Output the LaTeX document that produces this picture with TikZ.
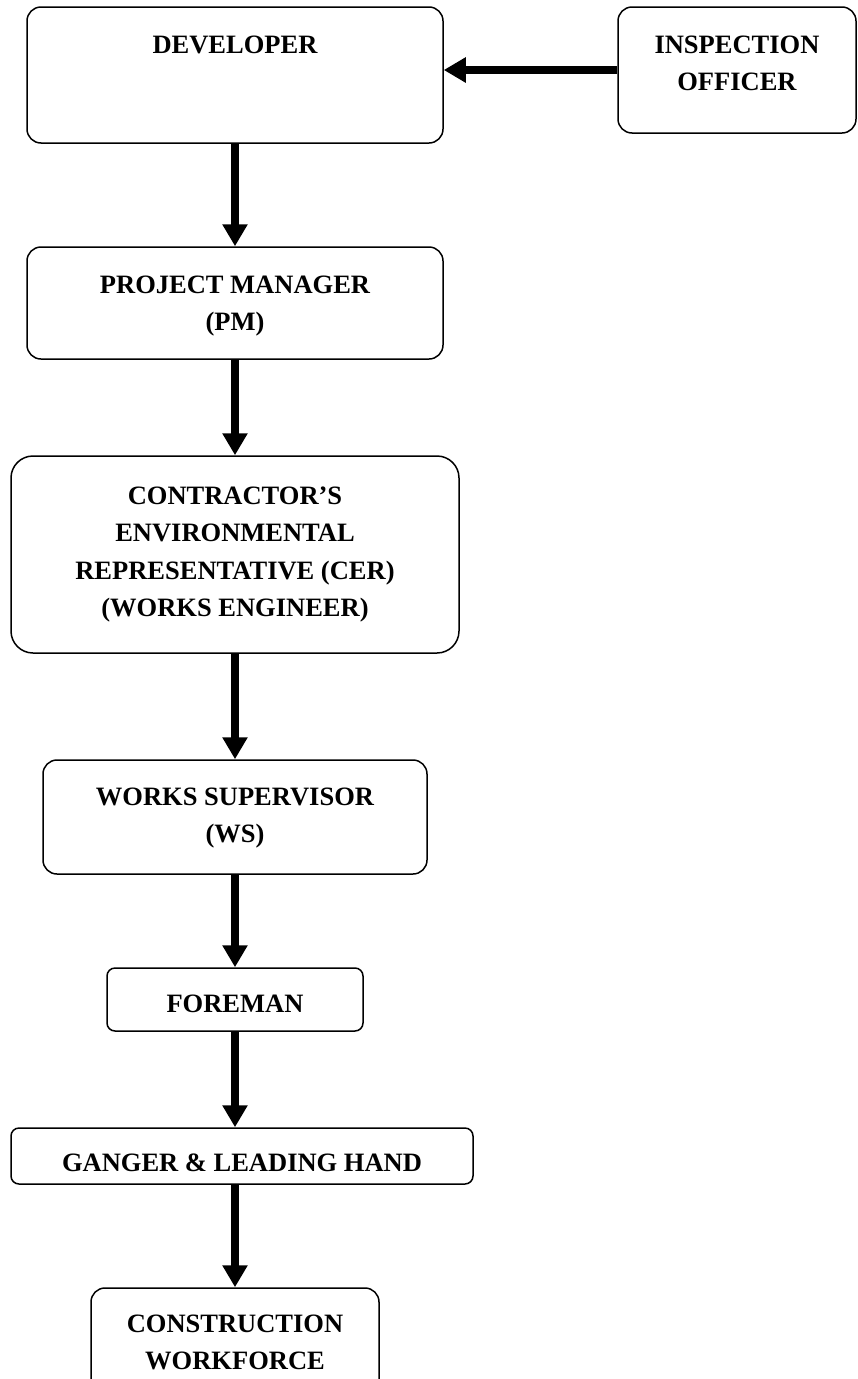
\documentclass[tikz,border=0pt]{standalone}
\usepackage{fontspec}
\setmainfont{Liberation Serif}
\usepackage{tikz}
\usetikzlibrary{arrows.meta}
\newcommand{\boxfont}{\fontsize{26.5}{37.5}\selectfont\bfseries}
\newcommand{\boxline}{1.5pt}

\begin{document}
\begin{tikzpicture}[x=1pt,y=-1pt,
        link/.style={-{Triangle[length=22pt,width=24pt]},line width=8pt}]
            \useasboundingbox (0,0) rectangle (857,1379);
            \begin{scope}[shape=rectangle]
            \tikzstyle{every node}=[draw,line width=\boxline,inner sep=0pt,align=center,font=\boxfont,text height=18pt,rounded corners=14pt]
            
            \node[minimum width=416pt,minimum height=136pt,text depth=62pt] (dev) at (235,75) {DEVELOPER};
            \node[minimum width=238pt,minimum height=126pt,text height=55.5pt,text depth=14.5pt] (insp) at (737,70) {INSPECTION\\OFFICER};
            
            \node[minimum width=416pt,minimum height=112pt,text height=55.5pt,text depth=0.5pt] (pm) at (235,303) {PROJECT MANAGER\\(PM)};
            \node[minimum width=448pt,minimum height=197pt,text height=130.5pt,text depth=6.5pt,rounded corners=22pt] (cer) at (235,554.5) {CONTRACTOR’S\\ENVIRONMENTAL\\REPRESENTATIVE (CER)\\(WORKS ENGINEER)};
            \node[minimum width=384pt,minimum height=114pt,text height=55.5pt,text depth=4.5pt] (ws) at (235,817) {WORKS SUPERVISOR\\(WS)};
            
            \node[minimum width=256pt,minimum height=63pt,text height=25pt,text depth=0pt,rounded corners=8pt] (foreman) at (235,999.5) {FOREMAN};
            \node[minimum width=462pt,minimum height=56pt,text height=30pt,text depth=0pt,rounded corners=8pt] (ganger) at (242,1156) {GANGER \& LEADING HAND};
            \node[minimum width=288pt,minimum height=112pt,text height=55.5pt,text depth=4.5pt] (cw) at (235,1344) {CONSTRUCTION\\WORKFORCE};
            
            \draw [link] (insp.west) -- (insp.west -| dev.east);
            
            \draw [link] (dev.south) -- (pm.north);
            \draw [link] (pm.south) -- (cer.north);
            \draw [link] (cer.south) -- (ws.north);
            \draw [link] (ws.south) -- (foreman.north);
            \draw [link] (foreman.south) -- (foreman.south |- ganger.north);
            \draw [link] (cw.north |- ganger.south) -- (cw.north);
            
            \end{scope}
        \end{tikzpicture}
\end{document}
